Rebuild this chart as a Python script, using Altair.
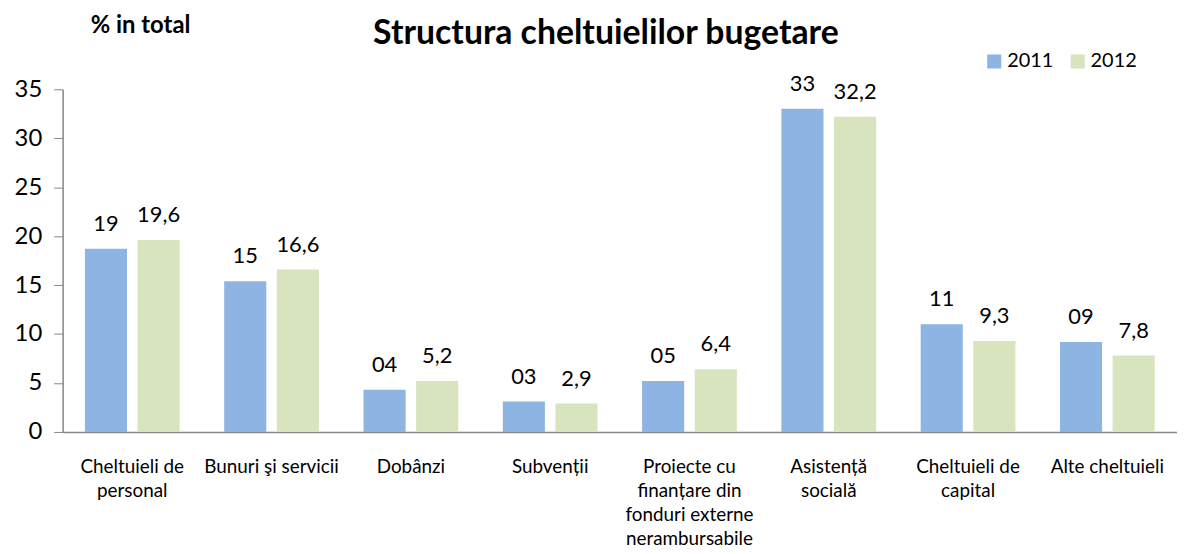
import altair as alt
import pandas as pd

categories = ["Cheltuieli de|personal", "Bunuri şi servicii", "Dobânzi", "Subvenții",
              "Proiecte cu|finanțare din|fonduri externe|nerambursabile", "Asistență|socială",
              "Cheltuieli de|capital", "Alte cheltuieli"]
years = ["2011", "2012"]
values_2011 = [18.7, 15.4, 4.3, 3.1, 5.2, 33.0, 11.0, 9.2]
values_2012 = [19.6, 16.6, 5.2, 2.9, 6.4, 32.2, 9.3, 7.8]
labels_2011 = ["19", "15", "04", "03", "05", "33", "11", "09"]
labels_2012 = ["19,6", "16,6", "5,2", "2,9", "6,4", "32,2", "9,3", "7,8"]
y_ticks = [0, 5, 10, 15, 20, 25, 30, 35]
colors = ["#8EB4E3", "#D7E4BD"]

rows = []
for yr, vals, labs in [(years[0], values_2011, labels_2011), (years[1], values_2012, labels_2012)]:
    for c, v, l in zip(categories, vals, labs):
        rows.append({"category": c, "year": yr, "value": v, "label": l})
df = pd.DataFrame(rows)

FONT = "Lato"

x = alt.X("category:N", sort=categories,
          scale=alt.Scale(paddingInner=0.32, paddingOuter=0.16),
          axis=alt.Axis(title=None, labelAngle=0, labelExpr="split(datum.label, '|')",
                        labelFontSize=19, labelLineHeight=24, labelBaseline="alphabetic",
                        ticks=False, tickSize=0, labelPadding=41, domainColor="#868686",
                        domainWidth=1.5, labelColor="black", labelFont=FONT, labelLimit=300))
xoff = alt.XOffset("year:N", scale=alt.Scale(paddingInner=0.2, paddingOuter=0))
y = alt.Y("value:Q", scale=alt.Scale(domain=[0, 35], nice=False),
          axis=alt.Axis(values=y_ticks, grid=False, title="% in total", titleAngle=0,
                        titleX=78, titleY=-57, titleAlign="center", titleBaseline="alphabetic",
                        titleFontSize=24, titleFontWeight="bold", titleFont=FONT, titleColor="black",
                        labelFontSize=24, labelFont=FONT, labelColor="black", labelPadding=12,
                        tickSize=9, tickColor="#868686", domainColor="#868686", domainWidth=1.5))

base = alt.Chart(df).encode(x=x, xOffset=xoff)

bars = base.mark_bar().encode(
    y=y,
    color=alt.Color("year:N", scale=alt.Scale(domain=years, range=colors),
                    legend=alt.Legend(title=None, orient="none", legendX=928, legendY=-38,
                                      direction="horizontal", symbolType="square", symbolSize=200,
                                      symbolStrokeWidth=0, labelFontSize=20, labelFont=FONT,
                                      labelColor="black", columnPadding=14, labelOffset=3)),
)
text = base.mark_text(dy=-18, baseline="alphabetic", fontSize=22, font=FONT, color="black").encode(
    y=alt.Y("value:Q"), text="label:N")

chart = (bars + text).properties(
    width=1122, height=345,
    title=alt.TitleParams("Structura cheltuielilor bugetare", fontSize=34, font=FONT,
                          fontWeight="bold", color="black", anchor="middle", offset=-37, dx=-14),
    autosize=alt.AutoSizeParams(type="none"),
    padding={"left": 55, "top": 80, "right": 0, "bottom": 115},
).configure_view(stroke=None)

chart.save("out.html", embed_options={"renderer": "svg", "actions": False})
